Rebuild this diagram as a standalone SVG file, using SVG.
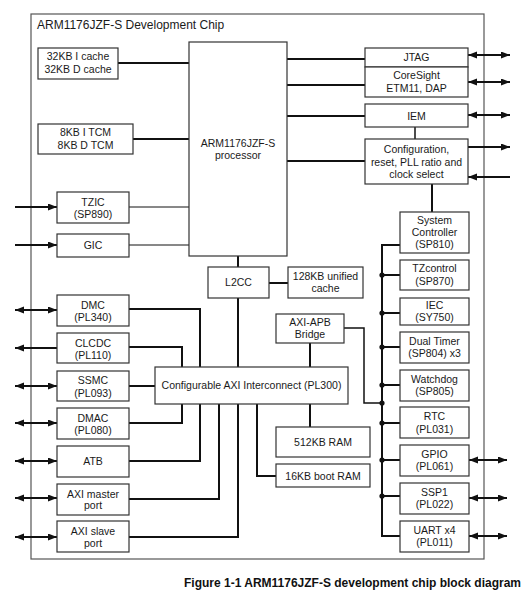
<svg xmlns="http://www.w3.org/2000/svg" width="529" height="596" viewBox="0 0 529 596">
<style>
.bx{fill:#fff;stroke:#333;stroke-width:1.2}
.t{font-family:"Liberation Sans",Arial,sans-serif;font-size:10.5px;fill:#1a1a1a;text-anchor:middle}
.c{fill:none;stroke:#111;stroke-width:2}
.th{fill:none;stroke:#111;stroke-width:1}
.a{fill:none;stroke:#111;stroke-width:2}
.dot{fill:#111}
</style>
<defs>
<marker id="ah" markerWidth="10" markerHeight="8" refX="9" refY="3.5" orient="auto-start-reverse" markerUnits="userSpaceOnUse">
<path d="M0,0 L9,3.5 L0,7 z" fill="#111"/>
</marker>
</defs>
<rect width="529" height="596" fill="#fff"/>
<g id="chip">
<rect x="31" y="14" width="453" height="545" fill="none" stroke="#555" stroke-width="1.2"/>
<text x="37" y="29" style="font-family:'Liberation Sans',Arial,sans-serif;font-size:12px;fill:#1a1a1a">ARM1176JZF-S Development Chip</text>
</g>
<g id="connectors">
<line class="c" x1="118" y1="63" x2="189" y2="63"/>
<line class="c" x1="133" y1="139" x2="189" y2="139"/>
<line class="th" x1="129" y1="207" x2="189" y2="207"/>
<line class="th" x1="129" y1="245" x2="189" y2="245"/>
<line class="c" x1="238" y1="256" x2="238" y2="267"/>
<line class="c" x1="238" y1="298" x2="238" y2="367"/>
<line class="c" x1="269" y1="283" x2="288" y2="283"/>
<line class="c" x1="310" y1="343" x2="310" y2="367"/>
<line class="c" x1="310" y1="404" x2="310" y2="427"/>
<polyline class="c" points="257,404 257,476 276,476"/>
<polyline class="th" style="stroke-width:1.5" points="344,328 364,328 364,403 382,403"/>
<polyline class="c" points="129,309 200,309 200,367"/>
<polyline class="c" points="129,347 182,347 182,367"/>
<line class="c" x1="129" y1="386" x2="155" y2="386"/>
<polyline class="c" points="129,423 182,423 182,404"/>
<polyline class="c" points="129,461 200,461 200,404"/>
<polyline class="c" points="129,499 219,499 219,404"/>
<polyline class="c" points="129,537 238,537 238,404"/>
<line class="c" x1="287" y1="59" x2="365" y2="59"/>
<line class="c" x1="287" y1="85" x2="365" y2="85"/>
<line class="c" x1="287" y1="116" x2="365" y2="116"/>
<line class="c" x1="287" y1="161" x2="365" y2="161"/>
<line class="th" style="stroke-width:1.5" x1="415" y1="127" x2="415" y2="139"/>
<line class="c" x1="432" y1="184" x2="432" y2="212"/>
<polyline class="c" points="400,245 382,245 382,536 400,536"/>
<line class="c" x1="382" y1="275" x2="400" y2="275"/>
<line class="c" x1="382" y1="313" x2="400" y2="313"/>
<line class="c" x1="382" y1="347" x2="400" y2="347"/>
<line class="c" x1="382" y1="385" x2="400" y2="385"/>
<line class="c" x1="382" y1="423" x2="400" y2="423"/>
<line class="c" x1="382" y1="460" x2="400" y2="460"/>
<line class="c" x1="382" y1="496" x2="400" y2="496"/>
<circle class="dot" cx="382" cy="275" r="2.6"/>
<circle class="dot" cx="382" cy="313" r="2.6"/>
<circle class="dot" cx="382" cy="347" r="2.6"/>
<circle class="dot" cx="382" cy="385" r="2.6"/>
<circle class="dot" cx="382" cy="403" r="2.6"/>
<circle class="dot" cx="382" cy="423" r="2.6"/>
<circle class="dot" cx="382" cy="460" r="2.6"/>
<circle class="dot" cx="382" cy="496" r="2.6"/>
<!-- external arrows -->
<line class="a" x1="15" y1="207" x2="57" y2="207" marker-end="url(#ah)"/>
<line class="a" x1="15" y1="245" x2="57" y2="245" marker-end="url(#ah)"/>
<line class="a" x1="15" y1="310" x2="57" y2="310" marker-start="url(#ah)" marker-end="url(#ah)"/>
<line class="a" x1="57" y1="348" x2="15" y2="348" marker-end="url(#ah)"/>
<line class="a" x1="15" y1="386" x2="57" y2="386" marker-start="url(#ah)" marker-end="url(#ah)"/>
<line class="a" x1="15" y1="423" x2="57" y2="423" marker-start="url(#ah)" marker-end="url(#ah)"/>
<line class="a" x1="15" y1="461" x2="57" y2="461" marker-start="url(#ah)" marker-end="url(#ah)"/>
<line class="a" x1="15" y1="498" x2="57" y2="498" marker-start="url(#ah)" marker-end="url(#ah)"/>
<line class="a" x1="15" y1="537" x2="57" y2="537" marker-start="url(#ah)" marker-end="url(#ah)"/>
<line class="a" x1="468" y1="55" x2="510" y2="55" marker-start="url(#ah)" marker-end="url(#ah)"/>
<line class="a" x1="468" y1="82" x2="510" y2="82" marker-start="url(#ah)" marker-end="url(#ah)"/>
<line class="a" x1="468" y1="115" x2="510" y2="115" marker-start="url(#ah)" marker-end="url(#ah)"/>
<line class="a" x1="468" y1="147" x2="510" y2="147" marker-end="url(#ah)"/>
<line class="a" x1="510" y1="177" x2="468" y2="177" marker-end="url(#ah)"/>
<line class="a" x1="469" y1="460" x2="507" y2="460" marker-start="url(#ah)" marker-end="url(#ah)"/>
<line class="a" x1="469" y1="498" x2="507" y2="498" marker-start="url(#ah)" marker-end="url(#ah)"/>
<line class="a" x1="469" y1="536" x2="507" y2="536" marker-start="url(#ah)" marker-end="url(#ah)"/>
</g>
<g id="cache"><rect class="bx" x="38" y="48" width="80" height="31"/><text class="t" x="78" y="60">32KB I cache</text><text class="t" x="78" y="73">32KB D cache</text></g>
<g id="tcm"><rect class="bx" x="38" y="124" width="95" height="30"/><text class="t" x="85.5" y="136">8KB I TCM</text><text class="t" x="85.5" y="149">8KB D TCM</text></g>
<g id="processor"><rect class="bx" x="189" y="42" width="98" height="214"/><text class="t" x="238" y="147">ARM1176JZF-S</text><text class="t" x="238" y="159">processor</text></g>
<g id="tzic"><rect class="bx" x="57" y="192" width="72" height="31"/><text class="t" x="93" y="206">TZIC</text><text class="t" x="93" y="218">(SP890)</text></g>
<g id="gic"><rect class="bx" x="57" y="234" width="72" height="23"/><text class="t" x="93" y="249">GIC</text></g>
<g id="l2cc"><rect class="bx" x="208" y="267" width="61" height="31"/><text class="t" x="238.5" y="286">L2CC</text></g>
<g id="l2cache"><rect class="bx" x="288" y="267" width="75" height="31"/><text class="t" x="325.5" y="280">128KB unified</text><text class="t" x="325.5" y="292">cache</text></g>
<g id="bridge"><rect class="bx" x="276" y="314" width="68" height="29"/><text class="t" x="310" y="325.5">AXI-APB</text><text class="t" x="310" y="338">Bridge</text></g>
<g id="interconnect"><rect class="bx" x="155" y="367" width="193" height="37"/><text class="t" x="251.5" y="389">Configurable AXI Interconnect (PL300)</text></g>
<g id="ram512"><rect class="bx" x="276" y="427" width="94" height="30"/><text class="t" x="323" y="446">512KB RAM</text></g>
<g id="bootram"><rect class="bx" x="276" y="464" width="94" height="23"/><text class="t" x="323" y="479.5">16KB boot RAM</text></g>
<g id="jtag"><rect class="bx" x="365" y="48" width="103" height="19"/><text class="t" x="416.5" y="61">JTAG</text></g>
<g id="coresight"><rect class="bx" x="365" y="67" width="103" height="30"/><text class="t" x="416.5" y="79">CoreSight</text><text class="t" x="416.5" y="91.5">ETM11, DAP</text></g>
<g id="iem"><rect class="bx" x="365" y="104" width="103" height="23"/><text class="t" x="416.5" y="119.5">IEM</text></g>
<g id="config"><rect class="bx" x="365" y="139" width="103" height="45"/><text class="t" x="416.5" y="153">Configuration,</text><text class="t" x="416.5" y="165.5">reset, PLL ratio and</text><text class="t" x="416.5" y="178">clock select</text></g>
<g id="sysctrl"><rect class="bx" x="400" y="212" width="69" height="41"/><text class="t" x="434.5" y="223.5">System</text><text class="t" x="434.5" y="236">Controller</text><text class="t" x="434.5" y="248">(SP810)</text></g>
<g id="tzcontrol"><rect class="bx" x="400" y="260" width="69" height="30"/><text class="t" x="434.5" y="272">TZcontrol</text><text class="t" x="434.5" y="284.5">(SP870)</text></g>
<g id="iec"><rect class="bx" x="400" y="298" width="69" height="27"/><text class="t" x="434.5" y="308.5">IEC</text><text class="t" x="434.5" y="321">(SY750)</text></g>
<g id="dualtimer"><rect class="bx" x="400" y="332" width="69" height="31"/><text class="t" x="434.5" y="344.5">Dual Timer</text><text class="t" x="434.5" y="357">(SP804) x3</text></g>
<g id="watchdog"><rect class="bx" x="400" y="370" width="69" height="31"/><text class="t" x="434.5" y="382.5">Watchdog</text><text class="t" x="434.5" y="395">(SP805)</text></g>
<g id="rtc"><rect class="bx" x="400" y="407" width="69" height="31"/><text class="t" x="434.5" y="419.5">RTC</text><text class="t" x="434.5" y="432.5">(PL031)</text></g>
<g id="gpio"><rect class="bx" x="400" y="445" width="69" height="31"/><text class="t" x="434.5" y="457.5">GPIO</text><text class="t" x="434.5" y="470">(PL061)</text></g>
<g id="ssp1"><rect class="bx" x="400" y="483" width="69" height="31"/><text class="t" x="434.5" y="495.5">SSP1</text><text class="t" x="434.5" y="508">(PL022)</text></g>
<g id="uart"><rect class="bx" x="400" y="521" width="69" height="31"/><text class="t" x="434.5" y="533.5">UART x4</text><text class="t" x="434.5" y="546">(PL011)</text></g>
<g id="dmc"><rect class="bx" x="57" y="295" width="72" height="31"/><text class="t" x="93" y="309">DMC</text><text class="t" x="93" y="321">(PL340)</text></g>
<g id="clcdc"><rect class="bx" x="57" y="333" width="72" height="30"/><text class="t" x="93" y="346.5">CLCDC</text><text class="t" x="93" y="359">(PL110)</text></g>
<g id="ssmc"><rect class="bx" x="57" y="371" width="72" height="30"/><text class="t" x="93" y="384">SSMC</text><text class="t" x="93" y="396.5">(PL093)</text></g>
<g id="dmac"><rect class="bx" x="57" y="408" width="72" height="31"/><text class="t" x="93" y="421.5">DMAC</text><text class="t" x="93" y="434">(PL080)</text></g>
<g id="atb"><rect class="bx" x="57" y="446" width="72" height="31"/><text class="t" x="93" y="465">ATB</text></g>
<g id="aximaster"><rect class="bx" x="57" y="484" width="72" height="31"/><text class="t" x="93" y="497.5">AXI master</text><text class="t" x="93" y="509">port</text></g>
<g id="axislave"><rect class="bx" x="57" y="521" width="72" height="31"/><text class="t" x="93" y="535">AXI slave</text><text class="t" x="93" y="546.5">port</text></g>
<text x="521" y="587" style="font-family:'Liberation Sans',Arial,sans-serif;font-size:12px;font-weight:bold;fill:#111;text-anchor:end">Figure 1-1 ARM1176JZF-S development chip block diagram</text>
</svg>
